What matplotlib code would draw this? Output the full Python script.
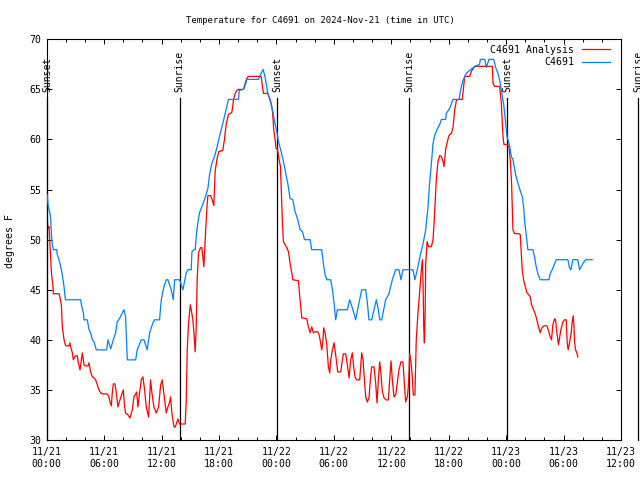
import numpy as np
import matplotlib
matplotlib.use("Agg")
import matplotlib.pyplot as plt

# --- Datos: horas desde 2024-11-21 00:00 UTC ---
obs_hours = [0.05, 0.14, 0.24, 0.35, 0.42, 0.49, 0.59, 0.69, 1.04, 1.11, 1.29, 1.46, 1.63, 1.81, 1.95,
             3.55, 3.62, 3.83, 3.90, 4.24, 4.42, 4.59, 4.77, 4.94, 5.18, 6.26, 6.40, 6.68, 6.96, 7.20,
             7.37, 7.65, 7.90, 8.07, 8.24, 8.42, 9.29, 9.46, 9.88, 10.16, 10.50, 10.75, 11.10, 11.27,
             11.79, 11.97, 12.24, 12.49, 12.66, 13.01, 13.22, 13.36, 13.71, 13.88, 14.23, 14.58, 14.75,
             15.10, 15.17, 15.38, 15.51, 15.62, 15.79, 15.97, 16.21, 16.49, 16.84, 17.01, 17.25, 17.53,
             17.81, 18.05, 18.40, 18.65, 18.99, 20.04, 20.11, 20.56, 20.80, 20.91, 22.12, 22.40, 22.61,
             22.82, 23.10, 23.34, 23.59, 23.79, 24.04, 24.21, 24.49, 24.73, 24.98, 25.19, 25.43, 25.71,
             25.95, 26.23, 26.47, 26.72, 26.93, 27.52, 27.69, 28.73, 28.91, 29.08, 29.26, 29.67, 29.85,
             30.02, 30.19, 30.37, 31.41, 31.66, 31.93, 32.28, 32.63, 32.91, 33.33, 33.50, 33.67, 33.95,
             34.20, 34.44, 34.65, 34.79, 35.00, 35.24, 35.41, 35.76, 35.94, 36.11, 36.46, 36.80, 37.01,
             37.22, 38.27, 38.47, 38.72, 39.07, 39.32, 39.60, 39.84, 40.00, 40.19, 40.36, 40.54, 40.78,
             41.06, 41.23, 41.68, 41.75, 42.10, 42.45, 43.08, 43.32, 43.50, 43.84, 44.19, 44.71, 45.23,
             45.30, 45.76, 45.93, 46.21, 46.70, 46.90, 47.15, 47.39, 47.60, 47.77, 47.95, 48.09, 48.36,
             48.54, 48.71, 48.99, 49.13, 49.40, 49.68, 49.82, 49.96, 50.10, 50.27, 50.80, 50.97, 51.14,
             51.32, 51.56, 52.47, 52.60, 52.81, 53.06, 53.23, 54.45, 54.62, 54.76, 54.97, 55.49, 55.67,
             56.02, 56.29, 56.99]
obs_temp = [54.5, 53.5, 53.0, 52.6, 52.0, 50.5, 49.5, 49.0, 49.0, 48.5, 48.0, 47.3, 46.5, 45.3, 44.0,
            44.0, 43.5, 42.7, 42.0, 42.0, 41.0, 40.7, 40.0, 39.8, 39.0, 39.0, 40.0, 39.1, 40.0, 40.7,
            41.8, 42.2, 42.7, 43.0, 42.3, 38.0, 38.0, 39.0, 40.0, 40.0, 39.0, 40.7, 41.7, 42.0,
            42.0, 44.0, 45.3, 46.0, 46.0, 45.0, 44.0, 46.0, 46.0, 46.0, 45.0, 46.7, 47.0,
            47.0, 48.8, 49.0, 49.0, 50.3, 51.7, 52.7, 53.3, 54.0, 55.1, 56.5, 57.6, 58.3,
            59.3, 60.3, 61.6, 62.6, 64.0, 64.0, 64.9, 65.0, 65.6, 66.0, 66.0, 66.6, 67.0,
            66.2, 64.6, 64.0, 62.9, 61.9, 60.8, 59.8, 58.8, 57.8, 56.6, 55.6, 54.1, 54.0,
            52.8, 52.0, 51.0, 50.8, 50.0, 50.0, 49.0, 49.0, 47.6, 46.5, 46.0, 46.0, 45.0,
            43.7, 42.0, 43.0, 43.0, 44.0, 43.2, 42.0, 43.7, 45.0, 45.0, 43.7, 42.0, 42.0,
            43.0, 44.0, 43.0, 42.0, 42.0, 43.2, 44.0, 44.6, 45.3, 46.0, 47.0, 47.0, 46.0,
            47.0, 47.0, 46.0, 47.0, 48.6, 49.6, 51.0, 53.3, 55.6, 57.6, 59.6, 60.4, 61.0,
            61.5, 62.0, 62.0, 62.6, 63.1, 64.0, 64.0, 65.3, 65.9, 66.6, 66.9, 67.3, 67.5,
            68.0, 68.0, 67.2, 68.0, 68.0, 67.2, 66.6, 65.6, 64.3, 63.3, 61.6, 60.3, 59.4,
            58.3, 58.0, 56.5, 56.0, 55.1, 54.3, 53.3, 51.6, 50.5, 49.0, 49.0, 48.3, 47.3,
            46.6, 46.0, 46.0, 46.6, 47.0, 47.6, 48.0, 48.0, 47.2, 47.0, 48.0, 48.0, 47.0,
            47.6, 48.0, 48.0]

ana_hours = [0.07, 0.14, 0.24, 0.35, 0.49, 0.66, 0.69, 1.29, 1.39, 1.53, 1.63, 1.81, 1.98, 2.33, 2.43,
             2.50, 2.68, 2.78, 2.92, 3.00, 3.20, 3.30, 3.48, 3.62, 3.72, 3.90, 4.07, 4.31, 4.42, 4.59,
             4.77, 4.94, 5.11, 5.29, 5.46, 5.64, 5.81, 6.33, 6.50, 6.61, 6.75, 6.85, 6.96, 7.13, 7.30,
             7.44, 7.65, 7.90, 8.00, 8.14, 8.24, 8.49, 8.70, 8.94, 9.11, 9.40, 9.53, 9.70, 9.88, 10.05,
             10.23, 10.40, 10.64, 10.85, 10.99, 11.20, 11.44, 11.69, 11.90, 12.07, 12.24, 12.49, 12.66,
             12.84, 12.94, 13.08, 13.29, 13.43, 13.71, 13.88, 14.47, 14.58, 14.68, 14.82, 15.00, 15.10,
             15.27, 15.38, 15.51, 15.62, 15.72, 15.86, 16.07, 16.21, 16.31, 16.42, 16.49, 16.60, 16.73,
             16.84, 17.12, 17.25, 17.46, 17.60, 17.78, 17.98, 18.40, 18.58, 18.75, 18.99, 19.34, 19.51,
             19.69, 19.86, 20.04, 20.56, 20.73, 20.90, 21.08, 22.40, 22.54, 22.65, 23.10, 23.45, 23.59,
             23.72, 23.86, 23.97, 24.11, 24.28, 24.42, 24.49, 24.63, 24.73, 24.91, 25.08, 25.26, 25.43,
             25.60, 25.71, 26.30, 26.40, 26.54, 26.65, 27.17, 27.34, 27.52, 27.69, 27.86, 28.04, 28.32,
             28.46, 28.60, 28.73, 28.84, 28.94, 29.08, 29.26, 29.43, 29.57, 29.67, 29.85, 30.02, 30.12,
             30.26, 30.40, 30.72, 30.82, 30.99, 31.24, 31.41, 31.59, 31.76, 31.93, 32.07, 32.21, 32.39,
             32.70, 32.80, 32.91, 33.05, 33.19, 33.33, 33.50, 33.67, 33.81, 33.95, 34.20, 34.37, 34.51,
             34.65, 34.79, 34.93, 35.07, 35.24, 35.48, 35.69, 35.83, 35.97, 36.11, 36.28, 36.46, 36.63,
             36.80, 37.01, 37.22, 37.36, 37.50, 37.68, 37.78, 37.85, 37.92, 38.06, 38.20, 38.30, 38.47,
             38.61, 38.79, 38.96, 39.14, 39.25, 39.32, 39.39, 39.46, 39.53, 39.60, 39.74, 39.91, 40.19,
             40.36, 40.47, 40.60, 40.71, 40.88, 41.06, 41.23, 41.41, 41.51, 41.68, 41.86, 42.03, 42.28,
             42.45, 42.62, 42.80, 42.97, 43.42, 43.67, 44.19, 44.36, 44.71, 46.56, 46.63, 46.80, 47.32,
             47.50, 47.67, 47.77, 48.09, 48.30, 48.43, 48.57, 48.64, 48.71, 48.88, 49.33, 49.47, 49.58,
             49.68, 49.82, 50.00, 50.17, 50.27, 50.52, 50.66, 50.87, 51.07, 51.21, 51.39, 51.56, 51.74,
             51.94, 52.26, 52.47, 52.60, 52.74, 52.88, 53.06, 53.16, 53.30, 53.47, 53.58, 53.72, 53.93,
             54.10, 54.28, 54.38, 54.48, 54.62, 54.80, 54.90, 55.01, 55.08, 55.15, 55.25, 55.39, 55.49]
ana_temp = [51.8, 51.1, 51.3, 49.3, 46.7, 45.3, 44.6, 44.6, 44.2, 43.5, 41.3, 40.0, 39.4, 39.4, 39.7,
            39.3, 38.7, 38.0, 38.3, 38.4, 38.4, 37.7, 37.0, 38.0, 38.7, 37.5, 37.4, 37.4, 37.7, 36.8,
            36.3, 36.2, 36.0, 35.5, 35.0, 34.7, 34.6, 34.6, 34.3, 33.8, 33.4, 34.7, 35.6, 35.6, 34.5,
            33.3, 34.0, 34.7, 35.0, 33.3, 32.7, 32.5, 32.2, 33.0, 34.3, 34.8, 33.3, 34.7, 36.0, 36.3,
            35.0, 33.3, 32.3, 36.0, 34.7, 33.3, 32.7, 33.3, 35.5, 36.0, 34.7, 32.7, 33.3,
            33.8, 34.3, 32.7, 31.3, 31.3, 32.1, 31.6, 31.6, 34.0, 39.0, 41.7, 43.5, 43.0,
            42.0, 40.7, 38.8, 41.3, 46.0, 48.7, 49.2, 49.2, 48.3, 47.3, 48.7, 50.8, 53.1,
            54.4, 54.4, 54.1, 53.4, 56.8, 58.0, 58.8, 58.9, 60.1, 61.5, 62.5, 62.7, 63.9,
            64.6, 64.9, 65.0, 65.0, 65.6, 66.1, 66.3, 66.3, 65.3, 64.6, 64.6, 63.6, 62.8,
            61.0, 60.0, 59.1, 59.0, 58.0, 57.3, 55.3, 51.6, 49.8, 49.5, 49.2, 48.8, 47.6,
            46.7, 46.0, 45.9, 44.7, 43.3, 42.2, 42.1, 41.3, 40.7, 41.3, 40.7, 40.8, 40.8,
            40.5, 39.8, 39.0, 39.7, 41.2, 40.7, 39.5, 37.3, 36.7, 38.0, 39.0, 39.7, 39.0,
            38.0, 36.8, 36.8, 37.5, 38.6, 38.6, 37.5, 36.2, 38.0, 38.7, 37.3, 36.3, 36.0,
            36.0, 37.3, 38.7, 38.0, 36.0, 34.3, 33.8, 34.2, 36.0, 37.3, 37.3, 35.7, 33.7,
            36.0, 37.8, 36.5, 34.8, 34.2, 34.0, 34.0, 36.0, 37.9, 36.0, 34.3, 34.5, 35.7,
            37.0, 37.8, 37.8, 35.7, 33.8, 34.3, 35.3, 36.7, 38.6, 37.8, 36.3, 34.5, 34.5,
            40.0, 42.7, 44.7, 47.0, 48.0, 45.6, 41.3, 39.7, 42.3, 47.6, 49.8, 49.3, 49.3,
            50.0, 51.6, 54.0, 56.1, 57.8, 58.4, 58.3, 57.8, 57.3, 59.0, 59.8, 60.4, 60.6,
            61.2, 62.9, 63.9, 64.0, 64.0, 66.3, 66.3, 66.8, 67.3, 67.3, 65.6, 65.3, 65.3,
            63.6, 60.3, 59.5, 59.5, 59.3, 58.0, 55.6, 53.1, 51.0, 50.6, 50.6, 50.5, 48.6,
            47.0, 46.0, 45.3, 44.7, 44.6, 44.3, 43.5, 43.0, 42.5, 42.0, 41.3, 40.7, 41.2,
            41.4, 41.4, 40.8, 40.3, 40.0, 41.5, 42.1, 42.0, 40.7, 39.5, 40.2, 41.0, 41.8,
            42.0, 42.0, 39.7, 39.0, 39.7, 40.7, 41.8, 42.4, 41.5, 39.8, 39.0, 38.7, 38.3]

sunset_hours = [0.08, 24.07, 48.09]
sunrise_hours = [13.88, 37.85, 61.8]

tick_hours = [0, 6, 12, 18, 24, 30, 36, 42, 48, 54, 60]
tick_labels = ["11/21\n00:00", "11/21\n06:00", "11/21\n12:00", "11/21\n18:00",
               "11/22\n00:00", "11/22\n06:00", "11/22\n12:00", "11/22\n18:00",
               "11/23\n00:00", "11/23\n06:00", "11/23\n12:00"]

# --- Figura ---
plt.rcParams['font.family'] = 'DejaVu Sans Mono'
fig = plt.figure(figsize=(6.4, 4.8), dpi=100)
ax = fig.add_axes([0.073, 0.0833, 0.8973, 0.8348])

# lineas de amanecer / atardecer (por debajo de los datos)
for h in sunset_hours:
    ax.plot([h, h], [30, 64.1], color='black', lw=0.9, zorder=1, clip_on=False)
    ax.text(h, 64.7, 'Sunset', rotation=90, ha='center', va='bottom', fontsize=7, clip_on=False)
for h in sunrise_hours:
    ax.plot([h, h], [30, 64.1], color='black', lw=0.9, zorder=1, clip_on=False)
    ax.text(h, 64.7, 'Sunrise', rotation=90, ha='center', va='bottom', fontsize=7, clip_on=False)

ax.plot(ana_hours, ana_temp, color='#ff0000', lw=0.9, label='C4691 Analysis', zorder=2)
ax.plot(obs_hours, obs_temp, color='#0080ff', lw=0.9, label='C4691', zorder=3)

ax.set_xlim(0, 60)
ax.set_ylim(30, 70)
ax.set_xticks(tick_hours)
ax.set_xticklabels(tick_labels, linespacing=1.3)
ax.set_xticks(np.arange(0, 61, 2), minor=True)
ax.set_yticks(np.arange(30, 71, 5))

ax.tick_params(which='both', direction='in', top=True, right=True, labelsize=7.1, width=0.7)
ax.tick_params(which='major', length=3.6)
ax.tick_params(which='minor', length=2)
ax.tick_params(axis='x', pad=5)
ax.tick_params(axis='y', pad=4)
for s in ax.spines.values():
    s.set_linewidth(0.8)

ax.legend(loc='upper right', bbox_to_anchor=(0.981, 0.986), markerfirst=False, frameon=False,
          handlelength=2.84, handletextpad=0.8, borderpad=0, borderaxespad=0,
          labelspacing=0.25, fontsize=7.1)

fig.text(0.5, 0.958, 'Temperature for C4691 on 2024-Nov-21 (time in UTC)',
         ha='center', va='center', fontsize=6.5)
fig.text(10 / 640, 0.498, 'degrees F', rotation=90, ha='center', va='center', fontsize=7.1)

plt.savefig('out.png', dpi=100)
